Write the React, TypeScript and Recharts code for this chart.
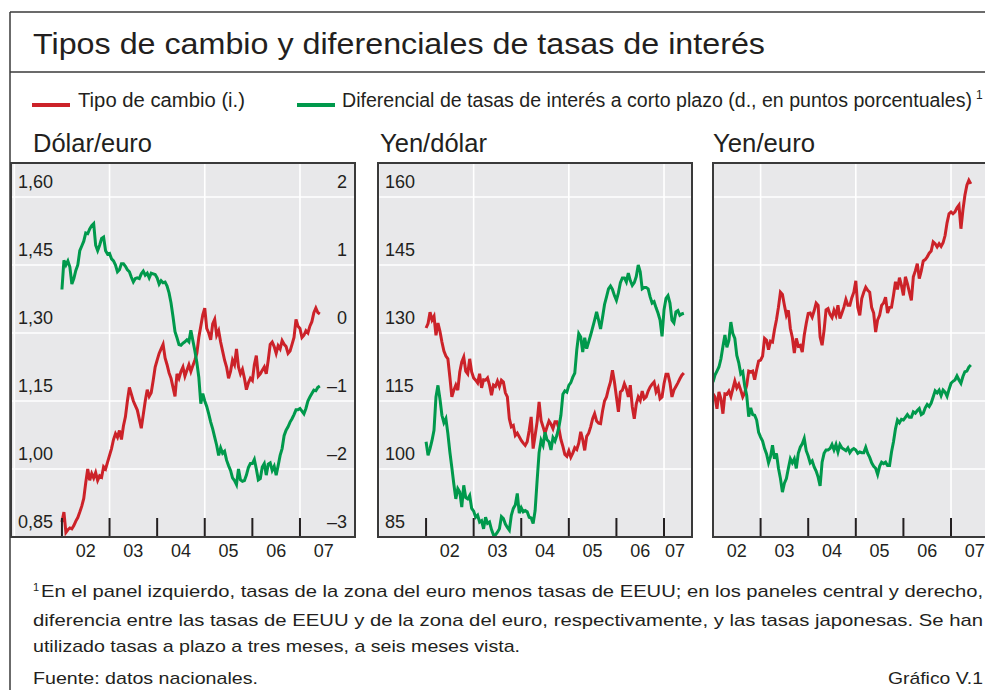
import React from 'react';
import { LineChart, Line, XAxis, YAxis, CartesianGrid } from 'recharts';

const RED = '#cc2229';
const GREEN = '#00994c';
const INK = '#231f20';
const PANEL_BG = '#e8e8ea';
const FONT = "'Liberation Sans Narrow', 'Liberation Sans', Arial, sans-serif";

// two readings a month, from January 2002 to late May 2007
const START_YEAR = 2002;
const PER_YEAR = 24;

// Dólar/euro
const usdEur = [
  0.883, 0.905, 0.860, 0.866, 0.870, 0.868, 0.875, 0.885, 0.893, 0.905, 0.918, 0.935, 0.970, 1.000, 0.975, 0.990, 0.980, 0.992, 0.975, 0.985, 0.982, 1.005, 1.000, 1.015,
  1.030, 1.045, 1.065, 1.078, 1.070, 1.085, 1.065, 1.095, 1.115, 1.150, 1.180, 1.165, 1.150, 1.140, 1.130, 1.110, 1.090, 1.120, 1.150, 1.175, 1.160, 1.168, 1.195, 1.225,
  1.240, 1.255, 1.265, 1.275, 1.245, 1.230, 1.212, 1.200, 1.180, 1.160, 1.210, 1.200, 1.215, 1.225, 1.205, 1.218, 1.230, 1.215, 1.228, 1.240, 1.255, 1.290, 1.315, 1.340,
  1.355, 1.310, 1.300, 1.285, 1.320, 1.330, 1.295, 1.305, 1.280, 1.260, 1.240, 1.225, 1.200, 1.215, 1.240, 1.230, 1.265, 1.225, 1.210, 1.220, 1.200, 1.175, 1.190, 1.200,
  1.195, 1.230, 1.250, 1.205, 1.210, 1.218, 1.225, 1.210, 1.240, 1.275, 1.280, 1.270, 1.255, 1.272, 1.265, 1.283, 1.275, 1.270, 1.255, 1.260, 1.275, 1.290, 1.330, 1.315,
  1.310, 1.290, 1.295, 1.305, 1.300, 1.315, 1.325, 1.345, 1.355, 1.345, 1.342,
];
const diffEurUsd = [
  0.64, 1.07, 1.00, 1.06, 0.97, 0.72, 0.80, 0.92, 1.00, 1.21, 1.28, 1.35, 1.47, 1.46, 1.53, 1.58, 1.61, 1.29, 1.21, 1.29, 1.39, 1.41, 1.21, 1.16,
  1.17, 1.09, 1.06, 1.00, 0.90, 0.93, 1.02, 1.02, 0.98, 0.93, 0.90, 0.82, 0.75, 0.80, 0.81, 0.80, 0.87, 0.91, 0.85, 0.88, 0.81, 0.88, 0.87, 0.86,
  0.81, 0.72, 0.77, 0.74, 0.75, 0.69, 0.59, 0.44, 0.24, 0.02, -0.07, -0.17, -0.18, -0.15, -0.13, -0.10, -0.13, 0.04, -0.11, -0.26, -0.43, -0.65, -1.04, -0.89,
  -1.00, -1.08, -1.19, -1.31, -1.41, -1.53, -1.65, -1.80, -1.69, -1.77, -1.74, -1.87, -1.95, -2.02, -2.13, -2.17, -2.23, -2.00, -2.16, -2.18, -2.17, -2.09, -1.98, -1.92,
  -1.92, -1.86, -2.00, -2.16, -2.14, -1.97, -1.92, -2.09, -1.93, -1.91, -2.02, -1.96, -2.09, -1.95, -1.80, -1.70, -1.51, -1.43, -1.38, -1.31, -1.26, -1.20, -1.13, -1.13,
  -1.11, -1.15, -1.19, -1.11, -1.00, -0.94, -0.89, -0.84, -0.85, -0.80, -0.78,
];

// Yen/dólar
const usdJpy = [
  131.1, 132.1, 134.6, 132.9, 133.7, 129.5, 132.2, 130.4, 128.0, 126.0, 124.9, 124.3, 120.3, 115.9, 117.4, 118.5, 117.4, 121.4, 123.6, 124.7, 121.6, 121.0, 124.3, 121.4,
  120.1, 119.6, 119.0, 121.0, 117.9, 119.7, 119.6, 120.1, 118.5, 116.3, 118.5, 118.2, 119.4, 118.2, 119.6, 119.2, 116.8, 115.9, 111.1, 109.3, 109.6, 107.4, 107.9, 107.1,
  106.3, 105.7, 105.2, 106.0, 108.5, 111.5, 104.5, 107.4, 110.4, 114.8, 110.7, 109.3, 107.9, 109.3, 110.6, 109.9, 108.9, 110.4, 110.4, 108.9, 106.5, 105.0, 103.2, 102.8,
  104.0, 102.6, 103.5, 104.7, 104.3, 105.7, 108.2, 106.5, 104.1, 107.2, 107.9, 109.3, 111.1, 112.2, 110.6, 110.1, 110.0, 112.8, 115.0, 115.9, 117.7, 119.2, 121.8, 119.2,
  115.9, 112.6, 117.0, 117.4, 118.8, 117.7, 115.9, 118.5, 113.7, 111.1, 114.3, 115.9, 115.1, 117.2, 115.5, 115.9, 117.2, 118.1, 118.7, 119.2, 117.0, 117.9, 115.5, 115.9,
  118.8, 120.9, 120.9, 119.0, 115.9, 117.4, 118.2, 119.0, 119.9, 120.7, 121.2,
];
const diffUsdJpy = [
  2.40, 2.20, 2.30, 2.42, 2.57, 3.06, 3.23, 3.03, 2.79, 2.68, 2.74, 2.52, 2.25, 2.02, 1.78, 1.56, 1.71, 1.66, 1.44, 1.76, 1.58, 1.56, 1.61, 1.42,
  1.38, 1.29, 1.32, 1.22, 1.24, 1.12, 1.29, 1.20, 1.22, 1.11, 1.03, 1.03, 1.07, 1.12, 1.30, 1.27, 1.19, 1.14, 1.10, 1.32, 1.42, 1.47, 1.64, 1.35,
  1.43, 1.37, 1.39, 1.37, 1.29, 1.28, 1.20, 1.39, 1.83, 2.24, 2.42, 2.35, 2.54, 2.43, 2.40, 2.28, 2.46, 2.41, 2.50, 2.62, 2.79, 3.10, 3.15, 3.13,
  3.23, 3.27, 3.35, 3.41, 3.75, 3.99, 3.94, 3.72, 3.93, 3.77, 3.87, 3.97, 4.08, 4.19, 4.31, 4.19, 4.06, 4.23, 4.42, 4.53, 4.65, 4.69, 4.64, 4.55,
  4.48, 4.59, 4.74, 4.81, 4.81, 4.75, 4.88, 4.77, 4.70, 4.74, 4.83, 5.00, 4.90, 4.65, 4.67, 4.67, 4.65, 4.53, 4.44, 4.46, 4.37, 4.29, 4.19, 3.95,
  4.34, 4.51, 4.55, 4.44, 4.19, 4.15, 4.31, 4.33, 4.26, 4.28, 4.29,
];

// Yen/euro
const eurJpy = [
  116.6, 115.9, 113.3, 117.0, 115.5, 112.2, 116.6, 116.5, 117.2, 116.0, 117.7, 119.4, 117.9, 118.7, 117.4, 115.9, 116.8, 118.5, 121.6, 121.4, 121.6, 119.7, 121.9, 123.8,
  124.0, 124.9, 128.8, 128.4, 126.3, 128.2, 128.0, 130.7, 132.9, 135.7, 139.0, 138.5, 136.1, 133.9, 135.0, 131.0, 129.0, 125.6, 128.8, 127.1, 127.3, 125.8, 129.5, 132.1,
  134.3, 134.4, 133.5, 134.9, 136.6, 136.1, 129.1, 127.3, 130.6, 135.1, 135.4, 134.1, 133.4, 135.0, 133.9, 136.1, 133.2, 134.4, 135.7, 137.4, 136.1, 136.1, 137.8, 139.0,
  141.5, 135.7, 133.9, 137.6, 139.0, 140.1, 139.4, 139.0, 135.6, 134.4, 130.2, 132.9, 133.9, 136.1, 136.6, 137.9, 134.4, 135.6, 135.7, 138.3, 141.3, 139.6, 142.2, 140.5,
  138.3, 142.4, 140.9, 139.0, 137.2, 142.4, 143.7, 145.3, 142.0, 143.7, 145.9, 146.2, 146.8, 147.6, 148.1, 150.1, 149.7, 149.0, 149.7, 149.1, 149.9, 151.5, 154.3, 156.3,
  156.7, 156.3, 156.7, 157.6, 158.2, 153.0, 157.1, 160.4, 162.6, 163.7, 162.9,
];
const diffEurJpy = [
  3.28, 3.38, 3.44, 3.50, 3.62, 3.80, 3.97, 3.79, 3.89, 4.16, 3.99, 3.92, 3.67, 3.56, 3.40, 3.43, 3.22, 3.08, 2.77, 2.90, 2.80, 2.79, 2.72, 2.54,
  2.47, 2.41, 2.30, 2.22, 2.09, 2.18, 2.35, 2.15, 2.23, 2.01, 1.86, 1.66, 1.79, 1.86, 2.01, 2.15, 2.09, 2.15, 2.01, 2.23, 2.32, 2.37, 2.45, 2.27,
  2.19, 2.09, 2.12, 2.03, 1.97, 1.88, 1.75, 2.10, 2.23, 2.28, 2.28, 2.30, 2.36, 2.28, 2.36, 2.25, 2.36, 2.31, 2.29, 2.27, 2.31, 2.24, 2.28, 2.30,
  2.28, 2.23, 2.25, 2.24, 2.24, 2.32, 2.23, 2.17, 2.09, 2.04, 2.01, 1.92, 2.04, 2.10, 2.08, 2.10, 2.05, 2.05, 2.25, 2.40, 2.59, 2.72, 2.68, 2.73,
  2.72, 2.76, 2.80, 2.76, 2.76, 2.84, 2.82, 2.86, 2.89, 2.80, 2.82, 2.90, 2.95, 2.92, 2.97, 3.06, 3.15, 3.12, 3.16, 3.08, 3.16, 3.13, 3.07, 3.17,
  3.26, 3.29, 3.31, 3.37, 3.31, 3.26, 3.36, 3.43, 3.44, 3.50, 3.53,
];

const usdTicks = [0.85, 1.0, 1.15, 1.3, 1.45, 1.6];
const usdDiffTicks = [-3, -2, -1, 0, 1, 2];
const jpyTicks = [85, 100, 115, 130, 145, 160];
const jpyDiffTicks = [1, 2, 3, 4, 5, 6];
const yearMarks = [2002, 2003, 2004, 2005, 2006, 2007];
const yearLabels = [2002.5, 2003.5, 2004.5, 2005.5, 2006.5, 2007.5];
const gridYears = [2001, 2003, 2005, 2007];

const footnote = [
  'En el panel izquierdo, tasas de la zona del euro menos tasas de EEUU; en los paneles central y derecho,',
  'diferencia entre las tasas de EEUU y de la zona del euro, respectivamente, y las tasas japonesas. Se han',
  'utilizado tasas a plazo a tres meses, a seis meses vista.',
];

const PLOT_TOP = 163;
const PLOT_H = 374;
const AXIS_H = 30;

const toRows = (fx: number[], diff: number[]) =>
  fx.map((v, i) => ({ t: START_YEAR + i / PER_YEAR, fx: v, diff: diff[i] }));

const fmtUsd = (v: number) => v.toFixed(2).replace('.', ',');
const fmtSigned = (v: number) => (v < 0 ? `\u2013${Math.abs(v)}` : `${v}`);
const fmtInt = (v: number) => `${v}`;

// year starts get a short inside tick, mid-years carry the "02".."07" label
const yearTick = (plotW: number) => (props: any) => {
  const { x, payload } = props;
  const v = payload.value;
  if (Number.isInteger(v)) {
    return <line x1={x} x2={x} y1={PLOT_H - 19} y2={PLOT_H} stroke={INK} strokeWidth={2} />;
  }
  return (
    <text x={Math.min(x, plotW - 17)} y={PLOT_H + 20} textAnchor="middle" fontSize={18} fill={INK} fontFamily={FONT}>
      {String(Math.floor(v) % 100).padStart(2, '0')}
    </text>
  );
};

const valueTick = (side: 'left' | 'right', plotW: number, fmt: (v: number) => string) => (props: any) => (
  <text
    x={side === 'left' ? 7 : plotW - 8}
    y={props.y - 9}
    textAnchor={side === 'left' ? 'start' : 'end'}
    fontSize={18}
    fill={INK}
    fontFamily={FONT}
  >
    {fmt(props.payload.value)}
  </text>
);

interface PanelProps {
  left: number;
  width: number;
  xDomain: [number, number];
  data: { t: number; fx: number; diff: number }[];
  fxDomain: [number, number];
  diffDomain: [number, number];
  fxTicks: number[];
  diffTicks: number[];
  fmtFx: (v: number) => string;
  fmtDiff: (v: number) => string;
  showFx: boolean;
  showDiff: boolean;
}

const Panel: React.FC<PanelProps> = (p) => {
  const vGrid = gridYears.filter(y => y > p.xDomain[0] && y < p.xDomain[1]);
  const hGrid = p.fxTicks.slice(1);
  const xTicks = [...yearMarks, ...yearLabels].filter(v => v > p.xDomain[0] && v < p.xDomain[1]).sort((a, b) => a - b);
  return (
    <>
      <div style={{ position: 'absolute', left: p.left, top: PLOT_TOP, width: p.width, height: PLOT_H + AXIS_H }}>
        <LineChart width={p.width} height={PLOT_H + AXIS_H} data={p.data} margin={{ top: 0, right: 0, bottom: 0, left: 0 }}>
          <CartesianGrid
            yAxisId="fx"
            fill={PANEL_BG}
            fillOpacity={1}
            stroke="#ffffff"
            strokeWidth={1.6}
            horizontalValues={hGrid}
            verticalValues={vGrid}
          />
          <XAxis
            dataKey="t"
            type="number"
            domain={p.xDomain}
            ticks={xTicks}
            interval={0}
            allowDataOverflow
            height={AXIS_H}
            axisLine={false}
            tickLine={false}
            tick={yearTick(p.width)}
          />
          <YAxis
            yAxisId="fx"
            orientation="left"
            type="number"
            domain={p.fxDomain}
            ticks={p.fxTicks}
            interval={0}
            allowDataOverflow
            mirror
            hide={!p.showFx}
            axisLine={false}
            tickLine={false}
            tick={valueTick('left', p.width, p.fmtFx)}
          />
          <YAxis
            yAxisId="diff"
            orientation="right"
            type="number"
            domain={p.diffDomain}
            ticks={p.diffTicks}
            interval={0}
            allowDataOverflow
            mirror
            hide={!p.showDiff}
            axisLine={false}
            tickLine={false}
            tick={valueTick('right', p.width, p.fmtDiff)}
          />
          <Line yAxisId="fx" dataKey="fx" stroke={RED} strokeWidth={3} dot={false} isAnimationActive={false} />
          <Line yAxisId="diff" dataKey="diff" stroke={GREEN} strokeWidth={3} dot={false} isAnimationActive={false} />
        </LineChart>
      </div>
      <div
        style={{
          position: 'absolute',
          left: p.left - 1,
          top: PLOT_TOP - 1,
          width: p.width + 2,
          height: PLOT_H + 2,
          border: `2px solid #3a3a3a`,
          boxSizing: 'border-box',
          pointerEvents: 'none',
        }}
      />
    </>
  );
};

export default function App() {
  const txt = { fill: INK, fontFamily: FONT };
  return (
    <div style={{ position: 'absolute', left: 0, top: 0, width: 985, height: 690, overflow: 'hidden', background: '#fff' }}>
      <svg width={985} height={690} style={{ position: 'absolute', left: 0, top: 0 }}>
        <line x1={10} x2={10} y1={12} y2={690} stroke="#3a3a3a" strokeWidth={1.5} />
        <line x1={10} x2={985} y1={12} y2={12} stroke="#3a3a3a" strokeWidth={1.5} />
        <line x1={10} x2={985} y1={72} y2={72} stroke="#3a3a3a" strokeWidth={1.5} />
        <text x={33} y={54} fontSize={30} textLength={732} lengthAdjust="spacingAndGlyphs" {...txt}>
          Tipos de cambio y diferenciales de tasas de interés
        </text>

        <rect x={32} y={103} width={38} height={4} fill={RED} />
        <text x={78} y={107} fontSize={20} textLength={167} lengthAdjust="spacingAndGlyphs" {...txt}>
          Tipo de cambio (i.)
        </text>
        <rect x={297} y={103} width={38} height={4} fill={GREEN} />
        <text x={342} y={107} fontSize={20} textLength={630} lengthAdjust="spacingAndGlyphs" {...txt}>
          Diferencial de tasas de interés a corto plazo (d., en puntos porcentuales)
        </text>
        <text x={976} y={99} fontSize={12} {...txt}>1</text>

        <text x={33} y={152} fontSize={25} textLength={119} lengthAdjust="spacingAndGlyphs" {...txt}>Dólar/euro</text>
        <text x={380} y={152} fontSize={25} textLength={107} lengthAdjust="spacingAndGlyphs" {...txt}>Yen/dólar</text>
        <text x={713} y={152} fontSize={25} textLength={102} lengthAdjust="spacingAndGlyphs" {...txt}>Yen/euro</text>

        <text x={33} y={591} fontSize={11} {...txt}>1</text>
        <text x={41} y={597} fontSize={17} textLength={942} lengthAdjust="spacingAndGlyphs" {...txt}>{footnote[0]}</text>
        <text x={33} y={626} fontSize={17} textLength={950} lengthAdjust="spacingAndGlyphs" {...txt}>{footnote[1]}</text>
        <text x={33} y={652} fontSize={17} textLength={487} lengthAdjust="spacingAndGlyphs" {...txt}>{footnote[2]}</text>
        <text x={33} y={684} fontSize={17} textLength={225} lengthAdjust="spacingAndGlyphs" {...txt}>Fuente: datos nacionales.</text>
        <text x={888} y={684} fontSize={17} textLength={95} lengthAdjust="spacingAndGlyphs" {...txt}>Gráfico V.1</text>
      </svg>

      <Panel
        left={11}
        width={344}
        xDomain={[2000.93, 2008.156]}
        data={toRows(usdEur, diffEurUsd)}
        fxDomain={[0.85, 1.675]}
        diffDomain={[-3, 2.5]}
        fxTicks={usdTicks}
        diffTicks={usdDiffTicks}
        fmtFx={fmtUsd}
        fmtDiff={fmtSigned}
        showFx
        showDiff
      />
      <Panel
        left={378}
        width={314}
        xDomain={[2000.99, 2007.588]}
        data={toRows(usdJpy, diffUsdJpy)}
        fxDomain={[85, 167.5]}
        diffDomain={[1, 6.5]}
        fxTicks={jpyTicks}
        diffTicks={jpyDiffTicks}
        fmtFx={fmtInt}
        fmtDiff={fmtInt}
        showFx
        showDiff={false}
      />
      <Panel
        left={713}
        width={294}
        xDomain={[2002, 2008.176]}
        data={toRows(eurJpy, diffEurJpy)}
        fxDomain={[85, 167.5]}
        diffDomain={[1, 6.5]}
        fxTicks={jpyTicks}
        diffTicks={jpyDiffTicks}
        fmtFx={fmtInt}
        fmtDiff={fmtInt}
        showFx={false}
        showDiff
      />
    </div>
  );
}
